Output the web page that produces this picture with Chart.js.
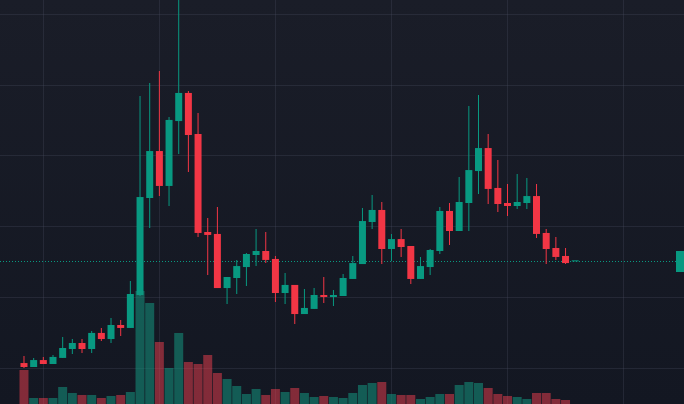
<!DOCTYPE html>
<html>
<head>
<meta charset="utf-8">
<script src="https://cdn.jsdelivr.net/npm/chart.js@4.4.1/dist/chart.umd.min.js"></script>
<style>
  html, body { margin: 0; padding: 0; background: #131722; }
  #wrap { width: 684px; height: 404px; background: linear-gradient(to bottom, #1a1d28 0%, #131722 100%); }
  canvas { display: block; }
</style>
</head>
<body>
<div id="wrap"><canvas id="c" width="684" height="404"></canvas></div>
<script>
// Candle data (price units), one entry per bar
const opens  = [1.042,1.014,1.063,1.035,1.078,1.141,1.183,1.141,1.254,1.211,1.310,1.289,1.521,2.204,2.535,2.289,2.746,2.944,2.655,1.965,1.951,1.570,1.641,1.718,1.803,1.831,1.775,1.535,1.592,1.387,1.423,1.521,1.507,1.514,1.634,1.739,2.035,2.120,1.845,1.915,1.866,1.634,1.718,1.831,2.113,1.972,2.169,2.394,2.556,2.275,2.169,2.148,2.169,2.218,1.958,1.852,1.796,1.758];
const highs  = [1.092,1.078,1.085,1.099,1.225,1.211,1.211,1.268,1.289,1.359,1.345,1.620,2.923,3.014,3.099,2.775,3.655,2.958,2.803,2.063,2.141,1.648,1.768,1.817,1.986,1.965,1.796,1.676,1.592,1.563,1.570,1.648,1.556,1.669,1.796,2.134,2.225,2.176,1.951,1.986,1.866,1.789,1.845,2.141,2.169,2.352,2.852,2.930,2.655,2.472,2.303,2.373,2.345,2.303,1.986,1.930,1.852,1.758];
const lows   = [1.007,1.014,1.035,1.035,1.078,1.106,1.113,1.113,1.197,1.183,1.232,1.289,1.514,1.993,2.218,2.148,2.514,2.387,1.930,1.662,1.570,1.458,1.528,1.585,1.725,1.746,1.472,1.458,1.317,1.387,1.423,1.465,1.444,1.514,1.634,1.739,1.986,1.739,1.761,1.789,1.599,1.634,1.662,1.810,1.873,1.972,1.972,2.232,2.162,2.106,2.077,2.127,2.127,1.923,1.739,1.768,1.739,1.758];
const closes = [1.014,1.063,1.035,1.085,1.148,1.183,1.141,1.254,1.211,1.310,1.289,1.528,2.211,2.535,2.289,2.754,2.944,2.648,1.958,1.944,1.570,1.648,1.725,1.810,1.831,1.768,1.535,1.592,1.387,1.430,1.521,1.507,1.521,1.641,1.746,2.042,2.120,1.845,1.915,1.859,1.634,1.725,1.838,2.113,1.972,2.176,2.401,2.556,2.268,2.162,2.148,2.176,2.218,1.951,1.845,1.789,1.746,1.758];
const volumes = [34,6,6,6,17,11,9,9,6,8,9,12,113,101,62,36,71,42,40,49,31,25,18,10,15,9,15,12,16,11,7,8,7,6,11,19,21,22,10,9,9,5,7,10,10,19,22,21,16,10,8,7,5,11,11,5,4,0];
// Vertical grid positions (bar index) and horizontal grid prices
const gridBars = [2,14,26,38,50,62];
const gridPrices = [1.0,1.5,2.0,2.5,3.0,3.5];
const lastPrice = 1.758;

const UP = '#089981', DOWN = '#f23645';
const VUP = 'rgba(20,150,128,0.55)', VDOWN = 'rgba(242,64,80,0.5)';
const isUp = opens.map((o, i) => closes[i] >= o);

const wickData = opens.map((o, i) => ({ x: i, y: [lows[i], highs[i]] }));
const bodyData = opens.map((o, i) => ({ x: i, y: [o, closes[i]] }));
const volData = volumes.map((v, i) => ({ x: i, y: v }));

const priceLine = {
  id: 'priceLine',
  beforeDatasetsDraw(chart) {
    const { ctx, chartArea, scales } = chart;
    const y = Math.round(scales.y.getPixelForValue(lastPrice)) + 0.5;
    ctx.save();
    ctx.strokeStyle = UP;
    ctx.lineWidth = 1;
    ctx.setLineDash([1, 2]);
    ctx.beginPath();
    ctx.moveTo(chartArea.left, y);
    ctx.lineTo(chartArea.right, y);
    ctx.stroke();
    ctx.restore();
  },
  afterDatasetsDraw(chart) {
    const { ctx, chartArea, scales } = chart;
    const y = scales.y.getPixelForValue(lastPrice);
    ctx.save();
    ctx.fillStyle = UP;
    ctx.fillRect(chartArea.right - 8, Math.round(y - 10.5), 8, 21);
    ctx.restore();
  }
};

new Chart(document.getElementById('c'), {
  type: 'bar',
  data: {
    datasets: [
      { data: volData, yAxisID: 'yv', grouped: false, order: 0, barThickness: 9,
        backgroundColor: isUp.map(u => u ? VUP : VDOWN), borderWidth: 0, inflateAmount: 0 },
      { data: bodyData, yAxisID: 'y', grouped: false, order: 1, barThickness: 7, minBarLength: 1,
        backgroundColor: isUp.map(u => u ? UP : DOWN), borderWidth: 0, inflateAmount: 0 },
      { data: wickData, yAxisID: 'y', grouped: false, order: 2, barThickness: 1,
        backgroundColor: isUp.map(u => u ? UP : DOWN), borderWidth: 0, inflateAmount: 0 }
    ]
  },
  options: {
    responsive: false,
    devicePixelRatio: 1,
    animation: false,
    layout: { padding: 0 },
    plugins: { legend: { display: false }, tooltip: { enabled: false } },
    scales: {
      x: {
        type: 'linear', min: -2.48, max: 68.25, offset: false,
        ticks: { display: false },
        grid: { color: 'rgba(70,75,92,0.32)', drawTicks: false, offset: false },
        border: { display: false },
        afterBuildTicks: (axis) => { axis.ticks = gridBars.map(v => ({ value: v })); },
        afterFit: (axis) => { axis.height = 0; }
      },
      y: {
        type: 'linear', min: 0.7535, max: 3.5986,
        ticks: { display: false },
        grid: { color: 'rgba(70,75,92,0.32)', drawTicks: false },
        border: { display: false },
        afterBuildTicks: (axis) => { axis.ticks = gridPrices.map(v => ({ value: v })); },
        afterFit: (axis) => { axis.width = 0; }
      },
      yv: { type: 'linear', display: false, min: 0, max: 404 }
    }
  },
  plugins: [priceLine]
});
</script>
</body>
</html>
